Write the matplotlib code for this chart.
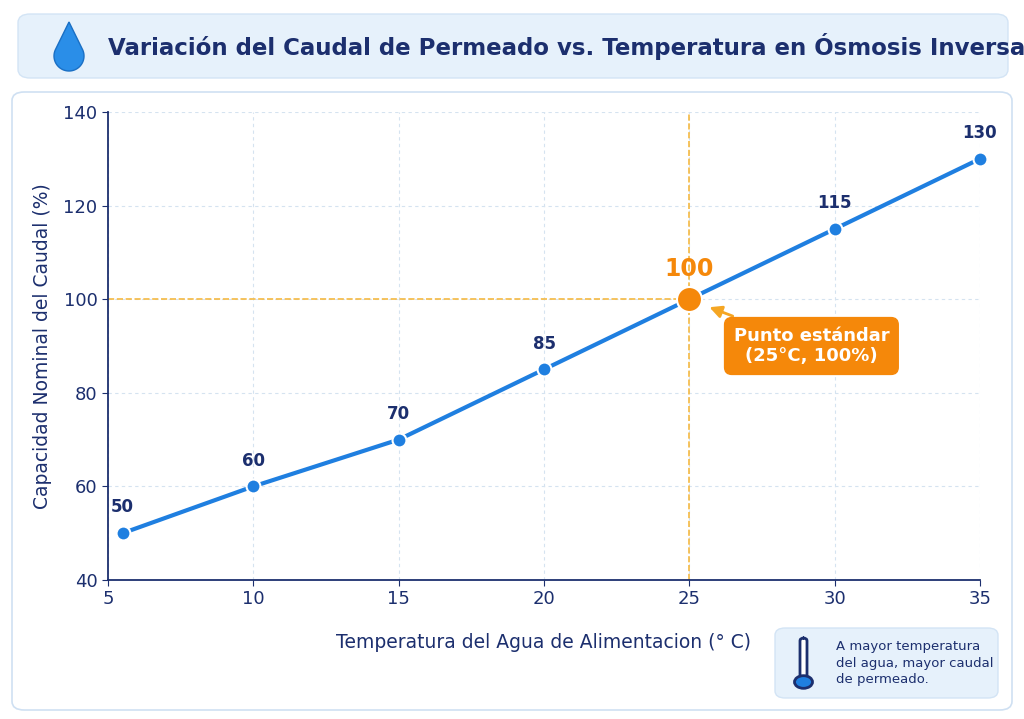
import matplotlib
matplotlib.use("Agg")
import matplotlib.pyplot as plt
from matplotlib.patches import FancyBboxPatch, Circle, Polygon
import numpy as np

temps = [5.5, 10, 15, 20, 25, 30, 35]
caudal = [50, 60, 70, 85, 100, 115, 130]
labels = ["50", "60", "70", "85", "100", "115", "130"]
xticks = [5, 10, 15, 20, 25, 30, 35]
yticks = [40, 60, 80, 100, 120, 140]

navy = "#1c2f6e"
blue = "#1f7fe0"
orange = "#f5880a"

fig = plt.figure(figsize=(10.24, 7.19), dpi=100)
W, H = 1024, 719
def fx(px): return px / W
def fy(py): return 1 - py / H

# title box
fig.patches.append(FancyBboxPatch((fx(18), fy(78)), fx(990), 64 / H, boxstyle="round,pad=0,rounding_size=0.012",
                                  transform=fig.transFigure, fc="#e6f1fb", ec="#d3e4f5", lw=1, zorder=-2))
# panel box
fig.patches.append(FancyBboxPatch((fx(12), fy(710)), fx(1000), 618 / H, boxstyle="round,pad=0,rounding_size=0.012",
                                  transform=fig.transFigure, fc="white", ec="#cfe0f2", lw=1.2, zorder=-2))
fig.text(fx(108), fy(46), "Variación del Caudal de Permeado vs. Temperatura en Ósmosis Inversa",
         fontsize=16.5, fontweight="bold", color=navy, va="center", ha="left")
# drop icon
cx, cy, r = 69, 56, 15
drop = Polygon([(fx(cx), fy(22))] + [(fx(cx + r * np.cos(a)), fy(cy - r * np.sin(a))) for a in np.linspace(0.5, -np.pi - 0.5, 50)],
               closed=True, transform=fig.transFigure, fc="#2a8ee8", ec="#1a6fc4")
fig.patches.append(drop)

ax = fig.add_axes([fx(108), fy(580), fx(980) - fx(108), (580 - 112) / H])
ax.set_zorder(2)
ax.patch.set_alpha(0)
ax.set_xlim(5, 35)
ax.set_ylim(40, 140)
ax.set_xticks(xticks)
ax.set_yticks(yticks)
ax.grid(True, ls=(0, (3, 3)), color="#d5e3f0", lw=0.8)
for s in ["top", "right"]:
    ax.spines[s].set_visible(False)
for s in ["left", "bottom"]:
    ax.spines[s].set_color(navy)
    ax.spines[s].set_linewidth(1.3)
ax.tick_params(colors=navy, labelsize=13, length=4)

ax.plot([5, 25], [100, 100], ls="--", color="#f5b942", lw=1.2, zorder=2)
ax.plot([25, 25], [40, 140], ls="--", color="#f5b942", lw=1.2, zorder=2)
ax.plot(temps, caudal, color=blue, lw=3, marker="o", ms=10, mfc=blue, mec="white", mew=1.5, zorder=3, clip_on=False)
ax.plot([25], [100], "o", ms=18, color=orange, mec="white", mew=1.5, zorder=4)
for x, y, l in zip(temps, caudal, labels):
    if l == "100":
        ax.text(x, y + 6.5, l, ha="center", va="center", fontsize=17, fontweight="bold", color=orange)
    else:
        ax.text(x, y + 5.5, l, ha="center", va="center", fontsize=12, fontweight="bold", color=navy)

ax.annotate("Punto estándar\n(25°C, 100%)", xy=(25.6, 98.5), xytext=(29.2, 90),
            ha="center", va="center", fontsize=13, fontweight="bold", color="white",
            bbox=dict(boxstyle="round,pad=0.5,rounding_size=0.4", fc=orange, ec=orange),
            arrowprops=dict(arrowstyle="-|>", color="#f5a623", lw=2, mutation_scale=18, shrinkB=2),
            zorder=5)
ax.set_xlabel("Temperatura del Agua de Alimentacion (° C)", fontsize=13.5, color=navy, labelpad=18)
ax.set_ylabel("Capacidad Nominal del Caudal (%)", fontsize=13.5, color=navy, labelpad=8)

# note box
fig.patches.append(FancyBboxPatch((fx(775), fy(698)), fx(223), 70 / H, boxstyle="round,pad=0,rounding_size=0.01",
                                  transform=fig.transFigure, fc="#e6f1fb", ec="#d3e4f5", lw=1, zorder=-1))
fig.text(fx(836), fy(663), "A mayor temperatura\ndel agua, mayor caudal\nde permeado.", fontsize=9.5,
         color=navy, va="center", ha="left", linespacing=1.35)
# thermometer
fig.patches.append(FancyBboxPatch((fx(800), fy(680)), fx(7), 42 / H, boxstyle="round,pad=0,rounding_size=0.004",
                                  transform=fig.transFigure, fc="white", ec=navy, lw=2))
fig.patches.append(Circle((fx(803.5), fy(682)), 9 / W, transform=fig.transFigure, fc=blue, ec=navy, lw=2))

fig.savefig("out.png", dpi=100)
